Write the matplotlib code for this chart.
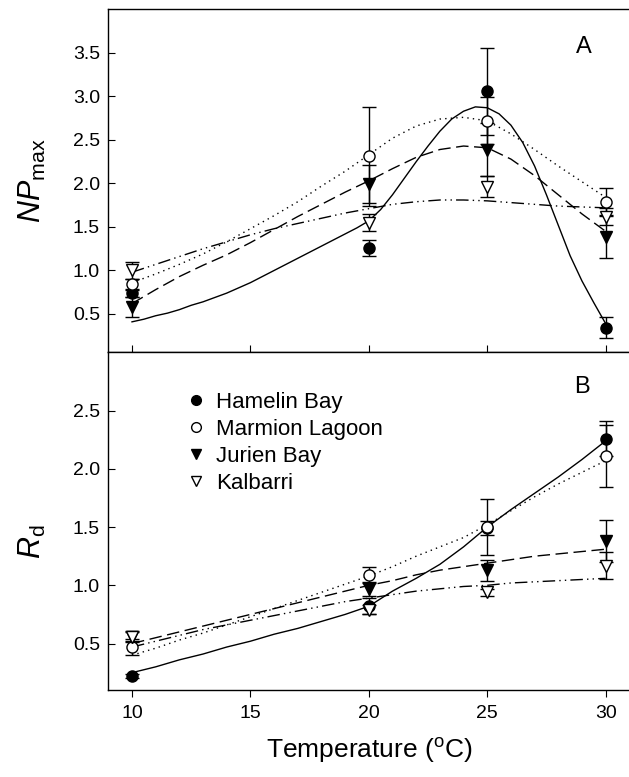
import matplotlib
matplotlib.use("Agg")
import matplotlib.pyplot as plt
from matplotlib.lines import Line2D

plt.rcParams["font.family"] = ["Liberation Sans", "DejaVu Sans"]
plt.rcParams["mathtext.fontset"] = "custom"
plt.rcParams["mathtext.rm"] = "Liberation Sans"
plt.rcParams["mathtext.it"] = "Liberation Sans:italic"

temps = [10, 20, 25, 30]
sites = ["Hamelin Bay", "Marmion Lagoon", "Jurien Bay", "Kalbarri"]

# panel A: NPmax means and errors
np_hamelin = [0.74, 1.26, 3.06, 0.34]
np_marmion = [0.84, 2.31, 2.72, 1.79]
np_jurien = [0.58, 1.99, 2.39, 1.39]
np_kalbarri = [1.00, 1.55, 1.96, 1.62]
np_hamelin_err = [0.05, 0.09, 0.50, 0.12]
np_marmion_err = [0.06, 0.57, 0.27, 0.16]
np_jurien_err = [0.11, 0.22, 0.30, 0.25]
np_kalbarri_err = [0.10, 0.10, 0.12, 0.10]

# panel B: Rd means and errors
rd_hamelin = [0.22, 0.82, 1.49, 2.26]
rd_marmion = [0.47, 1.09, 1.50, 2.11]
rd_jurien = [0.56, 0.97, 1.13, 1.38]
rd_kalbarri = [0.56, 0.79, 0.94, 1.17]
rd_hamelin_err = [0.02, 0.07, 0.06, 0.15]
rd_marmion_err = [0.07, 0.07, 0.24, 0.27]
rd_jurien_err = [0.04, 0.06, 0.09, 0.18]
rd_kalbarri_err = [0.05, 0.04, 0.03, 0.12]

# fitted curves
fit_t = list(range(10, 31))
fit_t_half = [10 + 0.5 * i for i in range(41)]
np_fit_hamelin = [0.41, 0.44, 0.48, 0.51, 0.55, 0.60, 0.64, 0.69, 0.74, 0.80,
                  0.86, 0.93, 1.00, 1.07, 1.14, 1.21, 1.28, 1.35, 1.42, 1.49,
                  1.57, 1.70, 1.87, 2.06, 2.25, 2.43, 2.60, 2.74, 2.83, 2.88,
                  2.87, 2.80, 2.67, 2.47, 2.20, 1.87, 1.52, 1.17, 0.88, 0.63,
                  0.39]
np_fit_marmion = [0.86, 0.96, 1.07, 1.19, 1.33, 1.48, 1.63, 1.79, 1.97, 2.14,
                  2.33, 2.52, 2.66, 2.74, 2.76, 2.72, 2.57, 2.39, 2.20, 2.02,
                  1.84]
np_fit_jurien = [0.62, 0.78, 0.93, 1.06, 1.18, 1.32, 1.47, 1.62, 1.76, 1.90,
                 2.03, 2.17, 2.30, 2.39, 2.43, 2.41, 2.28, 2.09, 1.87, 1.65,
                 1.45]
np_fit_kalbarri = [0.98, 1.07, 1.16, 1.25, 1.33, 1.41, 1.48, 1.54, 1.60, 1.66,
                   1.71, 1.76, 1.79, 1.81, 1.81, 1.80, 1.78, 1.76, 1.74, 1.73,
                   1.72]
rd_fit_hamelin = [0.25, 0.30, 0.36, 0.41, 0.47, 0.52, 0.58, 0.63, 0.69, 0.75,
                  0.82, 0.95, 1.06, 1.18, 1.33, 1.50, 1.65, 1.79, 1.93, 2.08,
                  2.24]
rd_fit_marmion = [0.40, 0.46, 0.53, 0.59, 0.66, 0.73, 0.80, 0.87, 0.94, 1.01,
                  1.08, 1.16, 1.25, 1.33, 1.41, 1.52, 1.64, 1.76, 1.87, 1.97,
                  2.07]
rd_fit_jurien = [0.50, 0.55, 0.60, 0.65, 0.70, 0.75, 0.80, 0.85, 0.90, 0.95,
                 1.00, 1.04, 1.09, 1.13, 1.16, 1.19, 1.22, 1.25, 1.27, 1.29,
                 1.31]
rd_fit_kalbarri = [0.47, 0.52, 0.57, 0.62, 0.66, 0.70, 0.74, 0.78, 0.82, 0.86,
                   0.89, 0.92, 0.95, 0.97, 0.99, 1.00, 1.02, 1.03, 1.04, 1.05,
                   1.06]

markers = [("o", "black"), ("o", "white"), ("v", "black"), ("v", "white")]
styles = ["-", (0, (1, 3)), (0, (9, 4)), (0, (9, 3, 1, 3, 1, 3))]

fig = plt.figure(figsize=(6.29, 7.77), dpi=100)
ax1 = fig.add_axes([0.1722, 0.5466, 0.8283, 0.4413])
ax2 = fig.add_axes([0.1722, 0.1118, 0.8283, 0.4347])


def draw_panel(ax, means, errs, fits):
    for i in range(4):
        fx, fy = fits[i]
        ax.plot(fx, fy, color="black", lw=1.0, linestyle=styles[i], zorder=2)
    for i in range(4):
        m, fc = markers[i]
        ax.errorbar(temps, means[i], yerr=errs[i], fmt=m, mfc=fc, mec="black",
                    ms=8, ecolor="black", elinewidth=1.0, capsize=5,
                    capthick=1.0, zorder=3)


draw_panel(ax1,
           [np_hamelin, np_marmion, np_jurien, np_kalbarri],
           [np_hamelin_err, np_marmion_err, np_jurien_err, np_kalbarri_err],
           [(fit_t_half, np_fit_hamelin), (fit_t, np_fit_marmion),
            (fit_t, np_fit_jurien), (fit_t, np_fit_kalbarri)])
draw_panel(ax2,
           [rd_hamelin, rd_marmion, rd_jurien, rd_kalbarri],
           [rd_hamelin_err, rd_marmion_err, rd_jurien_err, rd_kalbarri_err],
           [(fit_t, rd_fit_hamelin), (fit_t, rd_fit_marmion),
            (fit_t, rd_fit_jurien), (fit_t, rd_fit_kalbarri)])

for ax in (ax1, ax2):
    ax.set_xlim(9, 31)
    ax.set_xticks([10, 15, 20, 25, 30])
    ax.spines["right"].set_visible(False)
    ax.tick_params(axis="y", direction="in", length=5, width=0.8,
                   labelsize=14, pad=6)
    for s in ax.spines.values():
        s.set_linewidth(1.0)

ax1.set_ylim(0.06, 4.0)
ax1.set_yticks([0.5, 1.0, 1.5, 2.0, 2.5, 3.0, 3.5])
ax1.set_yticklabels(["0.5", "1.0", "1.5", "2.0", "2.5", "3.0", "3.5"])
ax1.tick_params(axis="x", direction="in", length=5, width=0.8,
                labelbottom=False)
ax1.set_ylabel(r"$\mathit{NP}_{\mathrm{max}}$", fontsize=22)
ax1.yaxis.set_label_coords(-0.115, 0.5)
ax1.text(0.913, 0.89, "A", transform=ax1.transAxes, fontsize=17,
         ha="center", va="center")

ax2.set_ylim(0.1, 3.0)
ax2.set_yticks([0.5, 1.0, 1.5, 2.0, 2.5])
ax2.set_yticklabels(["0.5", "1.0", "1.5", "2.0", "2.5"])
ax2.tick_params(axis="x", direction="out", length=5, width=0.8,
                labelsize=14, pad=6)
ax2.set_ylabel(r"$\mathit{R}_{\mathrm{d}}$", fontsize=22)
ax2.yaxis.set_label_coords(-0.115, 0.44)
ax2.set_xlabel(r"Temperature ($\mathregular{^{o}}$C)", fontsize=19, labelpad=10)
ax2.text(0.909, 0.897, "B", transform=ax2.transAxes, fontsize=17,
         ha="center", va="center")

handles = [Line2D([], [], marker=m, mfc=fc, mec="black", color="black",
                  linestyle="none", ms=7) for m, fc in markers]
ax2.legend(handles, sites, loc="upper left", bbox_to_anchor=(0.13, 0.915),
           frameon=False, fontsize=16, handlelength=0.8, handletextpad=0.5,
           labelspacing=0.26, borderpad=0)

fig.savefig("out.png", dpi=100)
